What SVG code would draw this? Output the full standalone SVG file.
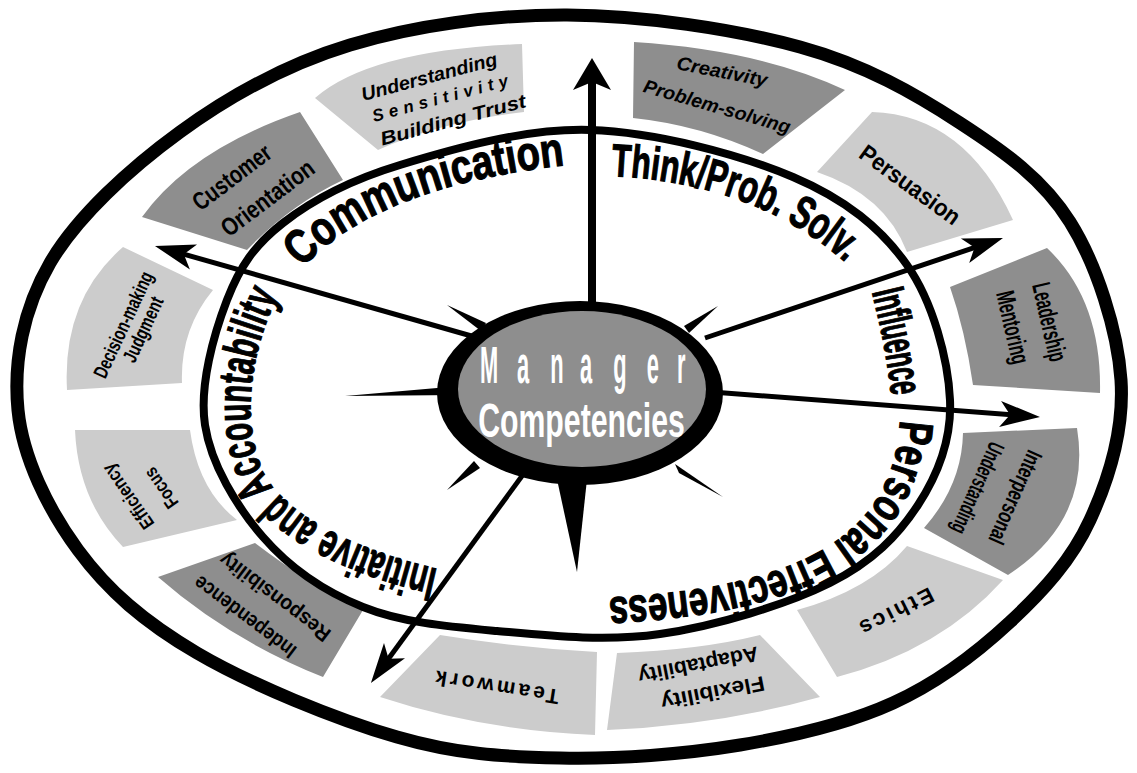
<svg xmlns="http://www.w3.org/2000/svg" width="1137" height="773" viewBox="0 0 1137 773">
<defs>
<style>
.ring{fill:none;stroke:#000;stroke-linejoin:round}
.lt{fill:#cccccc}
.dk{fill:#8e8e8e}
.bx{font-family:"Liberation Sans",Arial,sans-serif;font-weight:bold;fill:#000;text-anchor:middle}
.it{font-style:italic}
.lab{font-family:"Liberation Sans",Arial,sans-serif;font-weight:bold;fill:#000;stroke:#000;stroke-width:1.2px;font-size:48px}
.shaft{stroke:#000;fill:none;stroke-width:5}
.ctr{font-family:"Liberation Sans",Arial,sans-serif;font-weight:bold;fill:#fff}
.spk{fill:#000}
</style>
<marker id="ah" markerUnits="userSpaceOnUse" viewBox="-32 -15 44 30" refX="0" refY="0" markerWidth="44" markerHeight="30" orient="auto"><path d="M10,0 L-30,-13 L-20,0 L-30,13 Z" fill="#000"/></marker>
<marker id="ahU" markerUnits="userSpaceOnUse" viewBox="-24 -20 36 40" refX="0" refY="0" markerWidth="36" markerHeight="40" orient="auto"><path d="M10,0 L-22,-19 L-14,0 L-22,19 Z" fill="#000"/></marker>
<path id="pComm" d="M302,268 C350,217 432,180 566,165"/>
<path id="pThink" d="M611,176 C700,180 780,205 845,262"/>
<path id="pInfl" d="M872,292 C880,325 888,360 892,402"/>
<path id="pPers" d="M900,420 C895,530 810,590 600,598"/>
<path id="pInit" d="M442,570 C365,553 290,520 265,475 C242,432 245,352 285,283"/>
</defs>
<rect width="1137" height="773" fill="#fff"/>

<g id="outer-ring">
<path class="ring" stroke-width="13" d="M567,15 C642,15.3 734.5,29 800,47 C865.5,65 915,93.8 960,123 C1005,152.2 1043.2,179.2 1070,222 C1096.8,264.8 1117.7,330.3 1121,380 C1124.3,429.7 1108.5,479.7 1090,520 C1071.5,560.3 1042.8,591.5 1010,622 C977.2,652.5 938,682.5 893,703 C848,723.5 795.5,735.8 740,745 C684.5,754.2 617.2,759.3 560,758 C502.8,756.7 457.5,754.5 397,737 C336.5,719.5 250.2,684.2 197,653 C143.8,621.8 107.8,590.5 78,550 C48.2,509.5 22.7,457.8 18,410 C13.3,362.2 23,309.3 50,263 C77,216.7 130,168.3 180,132 C230,95.7 285.5,64.5 350,45 C414.5,25.5 492,14.7 567,15 Z"/>
</g>

<g id="box-understanding">
<path class="lt" d="M315,98 Q370,50 522,44 L524,112 Q440,122 378,150 Z"/>
<g transform="rotate(-15 440 98)">
<text class="bx it" font-size="19" x="435" y="81" textLength="140" lengthAdjust="spacingAndGlyphs">Understanding</text>
<text class="bx it" font-size="17" x="440" y="104" textLength="140" lengthAdjust="spacing">Sensitivity</text>
<text class="bx it" font-size="19" x="447" y="129" textLength="150" lengthAdjust="spacingAndGlyphs">Building Trust</text>
</g>
</g>

<g id="box-creativity">
<path class="dk" d="M634,42 Q760,50 845,90 L763,154 Q700,125 633,118 Z"/>
<text class="bx it" font-size="19" transform="rotate(11 722 72)" x="722" y="78" textLength="92" lengthAdjust="spacingAndGlyphs">Creativity</text>
<text class="bx it" font-size="19" transform="rotate(16 717 107)" x="717" y="113" textLength="152" lengthAdjust="spacingAndGlyphs">Problem-solving</text>
</g>

<g id="box-persuasion">
<path class="lt" d="M817,172 L872,112 Q965,115 1013,220 L907,252 Q885,195 817,172 Z"/>
<text class="bx" font-size="24" transform="translate(910,185) rotate(36)" x="0" y="8" textLength="118" lengthAdjust="spacingAndGlyphs">Persuasion</text>
</g>

<g id="box-leadership">
<path class="dk" d="M950,287 L1047,248 Q1102,300 1100,393 L973,385 Q965,330 950,287 Z"/>
<g transform="translate(1032,325) rotate(77)">
<text class="bx" font-size="26" x="1" y="-9" textLength="80" lengthAdjust="spacingAndGlyphs">Leadership</text>
<text class="bx" font-size="26" x="-2" y="28" textLength="74" lengthAdjust="spacingAndGlyphs">Mentoring</text>
</g>
</g>

<g id="box-interpersonal">
<path class="dk" d="M963,433 L1077,428 Q1092,520 1008,575 L924,528 Q962,485 963,433 Z"/>
<g transform="translate(996,492) rotate(114)">
<text class="bx" font-size="23" x="-3" y="-12" textLength="100" lengthAdjust="spacingAndGlyphs">Interpersonal</text>
<text class="bx" font-size="23" x="4" y="26" textLength="98" lengthAdjust="spacingAndGlyphs">Understanding</text>
</g>
</g>

<g id="box-ethics">
<path class="lt" d="M797,610 Q870,590 907,546 L1003,580 Q940,650 837,677 Z"/>
<text class="bx" font-size="22" transform="translate(897,612) rotate(153)" x="0" y="8" textLength="80" lengthAdjust="spacing">Ethics</text>
</g>

<g id="box-flexibility">
<path class="lt" d="M617,653 Q700,650 760,635 L820,697 Q720,725 607,730 Z"/>
<g transform="translate(705,679) rotate(169)">
<text class="bx" font-size="21" x="-5" y="-8" textLength="105" lengthAdjust="spacingAndGlyphs">Flexibility</text>
<text class="bx" font-size="21" x="4" y="22" textLength="122" lengthAdjust="spacingAndGlyphs">Adaptability</text>
</g>
</g>

<g id="box-teamwork">
<path class="lt" d="M440,635 Q520,648 597,652 L595,735 Q480,730 380,697 Z"/>
<text class="bx" font-size="21" transform="translate(497,688) rotate(189)" x="0" y="8" textLength="125" lengthAdjust="spacing">Teamwork</text>
</g>

<g id="box-independence">
<path class="dk" d="M158,577 L255,543 Q310,585 363,610 L323,677 Q230,640 158,577 Z"/>
<g transform="translate(260,607) rotate(217)">
<text class="bx" font-size="21" x="6" y="-10" textLength="122" lengthAdjust="spacingAndGlyphs">Independence</text>
<text class="bx" font-size="21" x="-6" y="24" textLength="133" lengthAdjust="spacingAndGlyphs">Responsibility</text>
</g>
</g>

<g id="box-efficiency">
<path class="lt" d="M75,430 L190,430 Q198,490 237,520 L123,547 Q78,500 75,430 Z"/>
<g transform="translate(145,492) rotate(-125)">
<text class="bx" font-size="19" x="6" y="-10" textLength="75" lengthAdjust="spacingAndGlyphs">Efficiency</text>
<text class="bx" font-size="19" x="-6" y="22" textLength="45" lengthAdjust="spacingAndGlyphs">Focus</text>
</g>
</g>

<g id="box-decision">
<path class="lt" d="M123,247 L213,290 Q180,330 182,383 L67,390 Q62,300 123,247 Z"/>
<g transform="translate(133,327) rotate(-65)">
<text class="bx" font-size="20" x="-2" y="-3" textLength="115" lengthAdjust="spacingAndGlyphs">Decision-making</text>
<text class="bx" font-size="20" x="2" y="17" textLength="70" lengthAdjust="spacingAndGlyphs">Judgment</text>
</g>
</g>

<g id="box-customer">
<path class="dk" d="M142,217 Q190,150 300,112 L343,180 Q290,205 247,250 Z"/>
<g transform="translate(250,188) rotate(-37)">
<text class="bx" font-size="25" x="-8" y="-11" textLength="92" lengthAdjust="spacingAndGlyphs">Customer</text>
<text class="bx" font-size="25" x="8" y="27" textLength="110" lengthAdjust="spacingAndGlyphs">Orientation</text>
</g>
</g>

<g id="inner-ring">
<path class="ring" stroke-width="8" d="M590,130 C655.5,132 740.2,154.5 793,177 C845.8,199.5 880.8,227.8 907,265 C933.2,302.2 948.2,360 950,400 C951.8,440 938,474.5 918,505 C898,535.5 873,561.5 830,583 C787,604.5 715.5,626 660,634 C604.5,642 546.5,635.5 497,631 C447.5,626.5 402,622.7 363,607 C324,591.3 289.3,567.3 263,537 C236.7,506.7 211,464.5 205,425 C199,385.5 214,333.7 227,300 C240,266.3 254.2,245.5 283,223 C311.8,200.5 348.8,180.5 400,165 C451.2,149.5 524.5,128 590,130 Z"/>
</g>

<g id="ring-labels">
<text class="lab"><textPath href="#pComm" textLength="288" lengthAdjust="spacingAndGlyphs">Communication</textPath></text>
<text class="lab" style="font-size:46px"><textPath href="#pThink" textLength="255" lengthAdjust="spacingAndGlyphs">Think/Prob. Solv.</textPath></text>
<text class="lab" style="font-size:46px"><textPath href="#pInfl" textLength="106" lengthAdjust="spacingAndGlyphs">Influence</textPath></text>
<text class="lab"><textPath href="#pPers" textLength="380" lengthAdjust="spacingAndGlyphs">Personal Effectiveness</textPath></text>
<text class="lab"><textPath href="#pInit" startOffset="4" textLength="388" lengthAdjust="spacingAndGlyphs">Initiative and Accountability</textPath></text>
</g>

<g id="connectors">
<line x1="592" y1="305" x2="592" y2="68" stroke="#000" stroke-width="8" marker-end="url(#ahU)"/>
<line class="shaft" x1="475" y1="337" x2="164.6" y2="248.7" marker-end="url(#ah)"/>
<line class="shaft" x1="705" y1="338" x2="993.5" y2="241.2" marker-end="url(#ah)"/>
<line class="shaft" x1="712" y1="392" x2="1030" y2="416.2" marker-end="url(#ah)"/>
<line class="shaft" x1="530" y1="465" x2="376.8" y2="674.8" marker-end="url(#ah)"/>
</g>

<g id="center">
<polygon class="spk" points="345,396 460,386 460,395"/>
<polygon class="spk" points="447,305 486,323 481,331"/>
<polygon class="spk" points="718,306 684,326 689,333"/>
<polygon class="spk" points="447,490 474,461 480,468"/>
<polygon class="spk" points="723,497 675,464 679,473"/>
<polygon class="spk" points="555,470 588,470 577,572"/>
<ellipse cx="580" cy="393" rx="143" ry="92" fill="#000"/>
<ellipse cx="582" cy="389" rx="124" ry="78" fill="#8e8e8e"/>
<text class="ctr" font-size="52" transform="matrix(0.42 0 0 1 0 0)" x="1143 1231 1310 1381 1460 1540 1612" y="383">Manager</text>
<text class="ctr" font-size="48" transform="matrix(0.63 0 0 1 0 0)" x="759" y="437">Competencies</text>
</g>
</svg>
